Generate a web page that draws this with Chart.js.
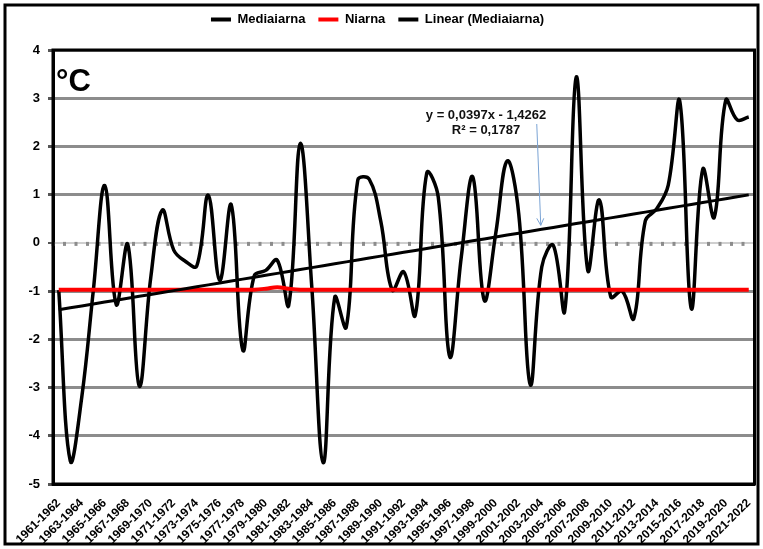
<!DOCTYPE html>
<html>
<head>
<meta charset="utf-8">
<script src="https://cdn.jsdelivr.net/npm/chart.js@4"></script>
<style>
  html, body { margin: 0; padding: 0; background: #fff; }
</style>
</head>
<body>
<canvas id="graph1" width="763" height="549"></canvas>
<script>
// Sezoane de iarna
var seasons = [
  '1961-1962', '1962-1963', '1963-1964', '1964-1965', '1965-1966', '1966-1967', '1967-1968', '1968-1969',
  '1969-1970', '1970-1971', '1971-1972', '1972-1973', '1973-1974', '1974-1975', '1975-1976', '1976-1977',
  '1977-1978', '1978-1979', '1979-1980', '1980-1981', '1981-1982', '1982-1983', '1983-1984', '1984-1985',
  '1985-1986', '1986-1987', '1987-1988', '1988-1989', '1989-1990', '1990-1991', '1991-1992', '1992-1993',
  '1993-1994', '1994-1995', '1995-1996', '1996-1997', '1997-1998', '1998-1999', '1999-2000', '2000-2001',
  '2001-2002', '2002-2003', '2003-2004', '2004-2005', '2005-2006', '2006-2007', '2007-2008', '2008-2009',
  '2009-2010', '2010-2011', '2011-2012', '2012-2013', '2013-2014', '2014-2015', '2015-2016', '2016-2017',
  '2017-2018', '2018-2019', '2019-2020', '2020-2021', '2021-2022'
];

// Media iernii (°C)
var mediaIarna = [
  -0.98, -4.52, -3.20, -1.00, 1.19, -1.28, -0.03, -2.97, -0.72, 0.68,
  -0.15, -0.38, -0.48, 0.99, -0.78, 0.79, -2.22, -0.68, -0.57, -0.36,
  -1.29, 2.06, -0.90, -4.56, -1.13, -1.75, 1.30, 1.32, 0.45, -0.98,
  -0.60, -1.50, 1.45, 0.95, -2.36, -0.30, 1.37, -1.19, 0.20, 1.70,
  0.60, -2.94, -0.50, -0.05, -1.41, 3.44, -0.57, 0.89, -1.12, -1.00,
  -1.57, 0.45, 0.71, 1.20, 2.94, -1.36, 1.53, 0.53, 2.96, 2.55,
  2.61
];

// Normala iernii (°C)
var nIarna = [
  -0.97, -0.97, -0.97, -0.97, -0.97, -0.97, -0.97, -0.97, -0.97, -0.97,
  -0.97, -0.97, -0.97, -0.97, -0.97, -0.97, -0.97, -0.97, -0.95, -0.92,
  -0.95, -0.97, -0.97, -0.97, -0.97, -0.97, -0.97, -0.97, -0.97, -0.97,
  -0.97, -0.97, -0.97, -0.97, -0.97, -0.97, -0.97, -0.97, -0.97, -0.97,
  -0.97, -0.97, -0.97, -0.97, -0.97, -0.97, -0.97, -0.97, -0.97, -0.97,
  -0.97, -0.97, -0.97, -0.97, -0.97, -0.97, -0.97, -0.97, -0.97, -0.97,
  -0.97
];

// Linia de tendinta, asa cum e scrisa pe grafic
var trendSlope = 0.0397;
var trendIntercept = -1.4262;
var trendR2 = 0.1787;
var trendLine = seasons.map(function (s, i) { return trendSlope * (i + 1) + trendIntercept; });

var yTicks = [-5, -4, -3, -2, -1, 0, 1, 2, 3, 4];

var fontMain = "'Liberation Sans', Arial, sans-serif";

function fmt(n) { return String(n).replace('.', ','); }

var decor = {
  id: 'decor',
  beforeInit: function (chart) {
    var legend = chart.legend;
    if (legend) {
      var fit = legend.fit;
      legend.fit = function () { fit.call(legend); this.height += 14; };
    }
  },
  beforeDatasetsDraw: function (chart) {
    // axa orizontala trece prin 0 cu semne mici
    var ctx = chart.ctx;
    var x = chart.scales.x, y = chart.scales.y;
    var y0 = y.getPixelForValue(0);
    var half = (x.getPixelForValue(1) - x.getPixelForValue(0)) / 2;
    ctx.save();
    ctx.fillStyle = '#8c8c8c';
    for (var i = 0; i <= seasons.length; i++) {
      var px = x.getPixelForValue(i) - half;
      ctx.fillRect(px - 1.5, y0 - 1, 3, 4);
    }
    ctx.restore();
  },
  afterDraw: function (chart) {
    var ctx = chart.ctx, a = chart.chartArea;
    var x = chart.scales.x, y = chart.scales.y;
    ctx.save();
    // chenarul zonei de grafic
    ctx.strokeStyle = '#000';
    ctx.lineWidth = 3;
    ctx.strokeRect(a.left, a.top, a.right - a.left, a.bottom - a.top);
    // chenarul exterior
    ctx.strokeRect(5, 5, 753, 539);

    // °C
    ctx.fillStyle = '#000';
    ctx.font = "bold 31px 'Liberation Sans', Arial, sans-serif";
    ctx.textAlign = 'left';
    ctx.textBaseline = 'alphabetic';
    ctx.fillText('°C', a.left + 3, a.top + 41);

    // ecuatia tendintei
    ctx.font = "bold 13px 'Liberation Sans', Arial, sans-serif";
    ctx.textAlign = 'center';
    ctx.fillStyle = '#111';
    ctx.fillText('y = ' + fmt(trendSlope) + 'x - ' + fmt(-trendIntercept), 486, 119);
    ctx.fillText('R² = ' + fmt(trendR2), 486, 134);

    // sageata spre linia de tendinta
    var tx = x.getPixelForValue(42) - 1;
    var ty = y.getPixelForValue(trendLine[42]) - 4;
    ctx.strokeStyle = '#7aa3d4';
    ctx.lineWidth = 1;
    ctx.beginPath();
    ctx.moveTo(tx - 4, 124);
    ctx.lineTo(tx, ty);
    ctx.moveTo(tx - 4, ty - 7);
    ctx.lineTo(tx, ty);
    ctx.lineTo(tx + 3, ty - 7);
    ctx.stroke();
    ctx.restore();
  }
};

var ctx = document.getElementById('graph1').getContext('2d');
var chart = new Chart(ctx, {
  type: 'line',
  data: {
    labels: seasons,
    datasets: [{
      label: 'Mediaiarna',
      data: mediaIarna,
      borderColor: '#000',
      backgroundColor: '#000',
      borderWidth: 3.5,
      pointRadius: 0,
      tension: 0.4,
      order: 2
    }, {
      label: 'Niarna',
      data: nIarna,
      borderColor: '#ff0000',
      backgroundColor: '#ff0000',
      borderWidth: 4,
      pointRadius: 0,
      tension: 0.4,
      order: 1
    }, {
      label: 'Linear (Mediaiarna)',
      data: trendLine,
      borderColor: '#000',
      backgroundColor: '#000',
      borderWidth: 3,
      pointRadius: 0,
      tension: 0,
      order: 0
    }]
  },
  options: {
    responsive: false,
    animation: false,
    layout: { padding: { left: 0, right: 8, top: 0, bottom: 0 } },
    plugins: {
      tooltip: { enabled: false },
      legend: {
        position: 'top',
        labels: {
          usePointStyle: true,
          pointStyle: 'line',
          pointStyleWidth: 20,
          padding: 13,
          color: '#000',
          font: { family: fontMain, size: 13, weight: 'bold' },
          generateLabels: function (chart) {
            var items = Chart.defaults.plugins.legend.labels.generateLabels(chart);
            items.forEach(function (it) { it.lineWidth = 4; });
            return items;
          },
          sort: function (a, b) { return a.datasetIndex - b.datasetIndex; }
        }
      }
    },
    scales: {
      x: {
        offset: true,
        afterFit: function (s) { s.height = 65; },
        grid: { display: false },
        border: { display: true, color: '#000', width: 3 },
        ticks: {
          autoSkip: false,
          maxRotation: 45,
          minRotation: 45,
          padding: 4,
          color: '#000',
          font: { family: fontMain, size: 12, weight: 'bold' },
          callback: function (v, i) { return i % 2 === 0 ? seasons[i] : ''; }
        }
      },
      y: {
        min: -5,
        max: 4,
        afterFit: function (s) { s.width = 53; },
        afterBuildTicks: function (s) { s.ticks = yTicks.map(function (v) { return { value: v }; }); },
        grid: {
          color: function (c) { return c.tick && c.tick.value === 0 ? '#cfcfcf' : '#8c8c8c'; },
          lineWidth: function (c) { return c.tick && c.tick.value === 0 ? 2 : 3; },
          tickLength: 5,
          tickColor: '#555'
        },
        border: { display: true, color: '#000', width: 3 },
        ticks: {
          padding: 8,
          color: '#000',
          font: { family: fontMain, size: 13, weight: 'bold' }
        }
      }
    }
  },
  plugins: [decor]
});
</script>
</body>
</html>
